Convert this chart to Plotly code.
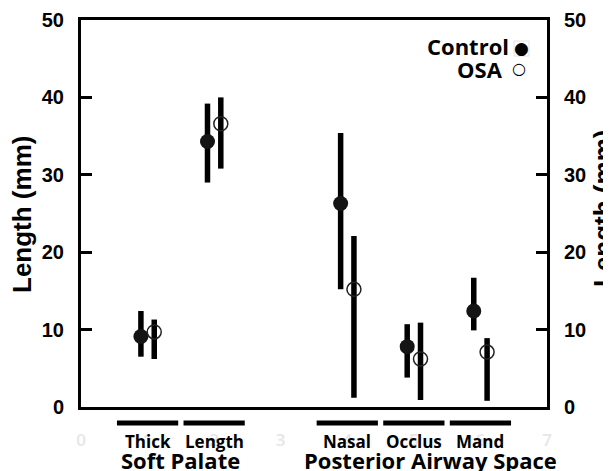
import plotly.graph_objects as go

# ---- data ----
categories = ["Thick", "Length", "Nasal", "Occlus", "Mand"]
positions = [1, 2, 4, 5, 6]
groups = ["Soft Palate", "Posterior Airway Space"]
group_centers = [1.5, 5.25]
control_mean = [9.1, 34.3, 26.3, 7.8, 12.4]
control_high = [12.4, 39.2, 35.4, 10.7, 16.7]
control_low = [6.5, 29.0, 15.2, 3.8, 9.9]
osa_mean = [9.7, 36.6, 15.2, 6.2, 7.1]
osa_high = [11.3, 40.0, 22.1, 10.9, 8.9]
osa_low = [6.2, 30.8, 1.2, 0.9, 0.8]
y_ticks = [0, 10, 20, 30, 40, 50]
x_ticks = [0, 1, 2, 3, 4, 5, 6, 7]

offset = 0.1
ctrl_x = [p - offset for p in positions]
osa_x = [p + offset for p in positions]

# plot-area helpers (screen px of the plot area)
PL, PR, PT, PB = 81, 547, 20, 407


def px(sx):
    return (sx - PL) / (PR - PL)


def py(sy):
    return (PB - sy) / (PB - PT)


fig = go.Figure()

fig.add_trace(go.Scatter(
    x=ctrl_x, y=control_mean, mode="markers", name="Control",
    marker=dict(symbol="circle", size=15, color="#141414"),
    error_y=dict(type="data", symmetric=False,
                 array=[h - m for h, m in zip(control_high, control_mean)],
                 arrayminus=[m - l for m, l in zip(control_mean, control_low)],
                 thickness=5.5, width=0, color="black"),
    showlegend=False,
))
fig.add_trace(go.Scatter(
    x=osa_x, y=osa_mean, mode="markers", name="OSA",
    marker=dict(symbol="circle-open", size=14, color="#222",
                line=dict(width=1.5, color="#222")),
    error_y=dict(type="data", symmetric=False,
                 array=[h - m for h, m in zip(osa_high, osa_mean)],
                 arrayminus=[m - l for m, l in zip(osa_mean, osa_low)],
                 thickness=5.5, width=0, color="black"),
    showlegend=False,
))
# invisible trace to activate right axis
fig.add_trace(go.Scatter(x=[None], y=[None], yaxis="y2", showlegend=False))

shapes = []
for p in positions:
    shapes.append(dict(type="line", xref="x", yref="paper",
                       x0=p - 0.46, x1=p + 0.46, y0=py(423), y1=py(423),
                       line=dict(color="black", width=5)))
# faint box around legend marker
shapes.append(dict(type="rect", xref="paper", yref="paper",
                   x0=px(514), x1=px(529), y0=py(56), y1=py(41),
                   line=dict(color="#e0e0e0", width=1)))

annotations = []
cat_font = dict(family="Open Sans", size=17, color="black", weight="bold")
for c, p in zip(categories, positions):
    annotations.append(dict(x=p, y=py(441), xref="x", yref="paper", text=c,
                            showarrow=False, font=cat_font,
                            xanchor="center", yanchor="middle"))
grp_font = dict(family="Open Sans", size=22, color="black", weight="bold")
for g, c in zip(groups, group_centers):
    annotations.append(dict(x=c, y=py(460), xref="x", yref="paper", text=g,
                            showarrow=False, font=grp_font,
                            xanchor="center", yanchor="middle"))
title_font = dict(family="Liberation Sans", size=26, color="black", weight="bold")
annotations.append(dict(x=px(22), y=py(215), xref="paper", yref="paper",
                        text="Length (mm)", textangle=-90, showarrow=False,
                        font=title_font, xanchor="center", yanchor="middle"))
annotations.append(dict(x=px(603), y=py(209), xref="paper", yref="paper",
                        text="Length (mm)", textangle=-90, showarrow=False,
                        font=title_font, xanchor="center", yanchor="middle"))
leg_font = dict(family="Open Sans", size=22, color="black", weight="bold")
annotations.append(dict(x=px(511), y=py(46), xref="paper", yref="paper",
                        text="Control", showarrow=False, font=leg_font,
                        xanchor="right", yanchor="middle"))
annotations.append(dict(x=px(505), y=py(69), xref="paper", yref="paper",
                        text="OSA", showarrow=False, font=leg_font,
                        xanchor="right", yanchor="middle"))
annotations.append(dict(x=px(521.5), y=py(48), xref="paper", yref="paper",
                        text="●", showarrow=False,
                        font=dict(family="DejaVu Sans", size=17, color="black"),
                        xanchor="center", yanchor="middle"))
annotations.append(dict(x=px(519), y=py(69), xref="paper", yref="paper",
                        text="○", showarrow=False,
                        font=dict(family="DejaVu Sans", size=16, color="black"),
                        xanchor="center", yanchor="middle"))

tick_font = dict(family="Liberation Sans", size=20, color="black", weight="bold")
yaxis_common = dict(range=[0, 50], tickvals=y_ticks, ticks="inside", ticklen=11,
                    tickwidth=3, tickcolor="black", showgrid=False, zeroline=False,
                    showline=True, linecolor="black", linewidth=3, automargin=False,
                    tickfont=tick_font, ticklabelstandoff=10, fixedrange=True)

# page body adds an 8px offset; margins are set so the plot area lands at PL..PR, PT..PB
W, H, OFF = 611, 471, 8
fig.update_layout(
    width=W, height=H,
    margin=dict(l=PL - OFF, r=W - (PR - OFF), t=PT - OFF, b=H - (PB - OFF), autoexpand=False),
    paper_bgcolor="white", plot_bgcolor="white",
    xaxis=dict(range=[0, 7], tickvals=x_ticks, ticks="", showgrid=False,
               zeroline=False, showline=True, linecolor="black", linewidth=3,
               mirror=True, automargin=False,
               tickfont=dict(family="Open Sans", size=17, color="#e6e6e6", weight=600),
               ticklabelstandoff=16),
    yaxis=dict(side="left", **yaxis_common),
    yaxis2=dict(side="right", overlaying="y", **yaxis_common),
    shapes=shapes,
    annotations=annotations,
    showlegend=False,
)

fig.write_html("out.html")
